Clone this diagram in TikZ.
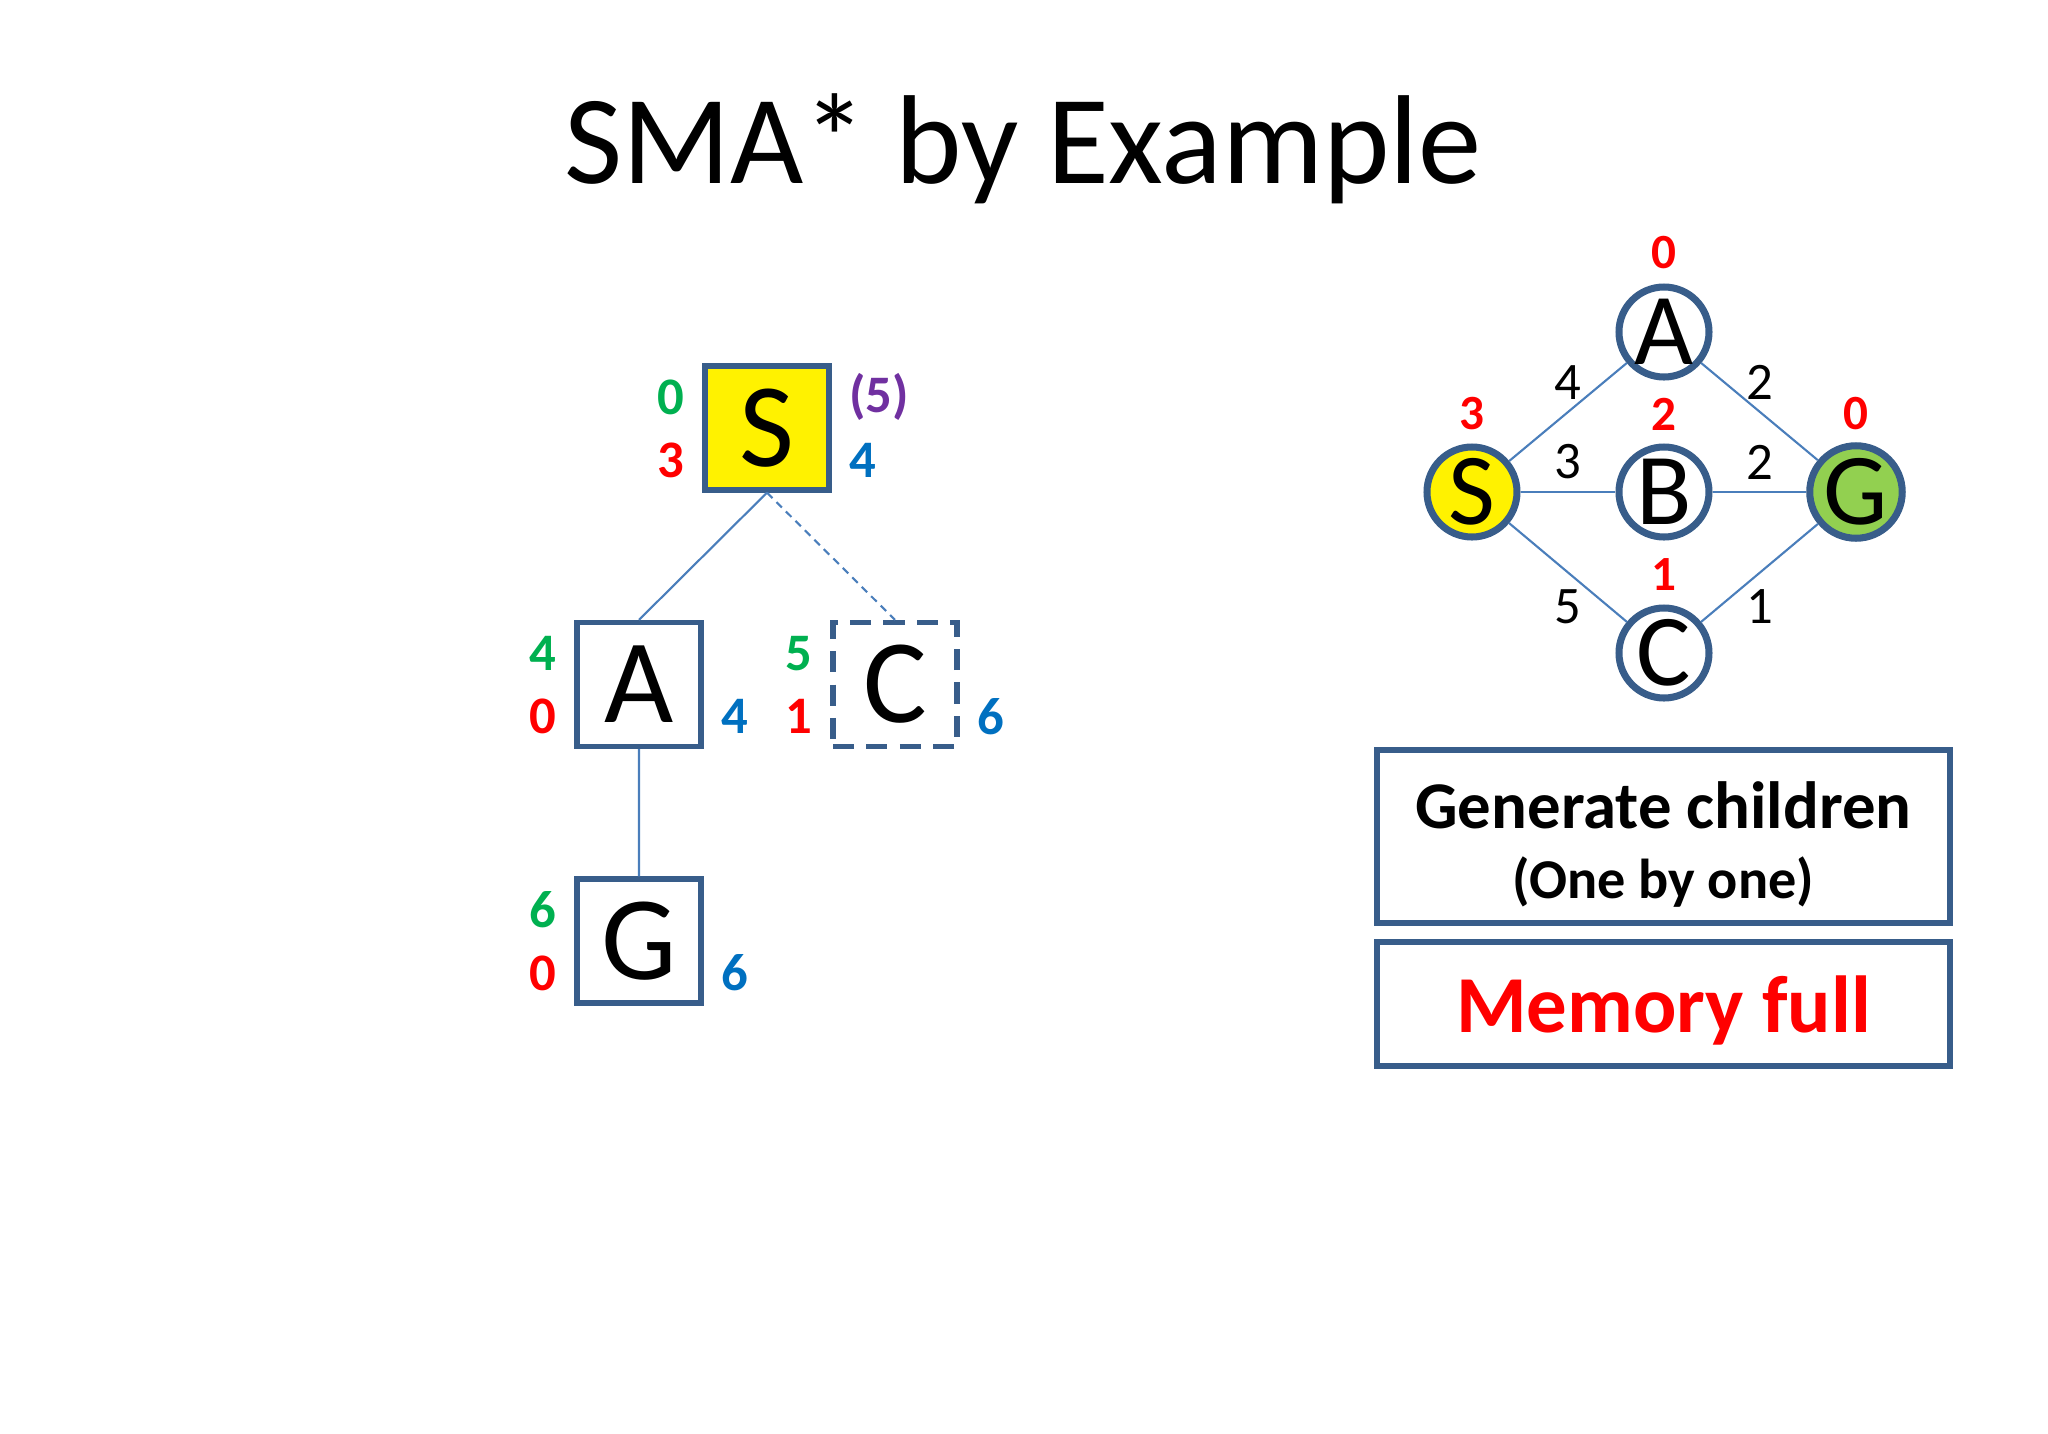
\documentclass[tikz,border=0pt]{standalone}
\usepackage{fontspec}
\setmainfont{Carlito}
\usetikzlibrary{positioning}
\definecolor{boxline}{HTML}{385D8A}
\definecolor{edgeline}{HTML}{4A7EBB}
\definecolor{gnum}{HTML}{00B050}
\definecolor{bnum}{HTML}{0070C0}
\definecolor{pnum}{HTML}{7030A0}
\definecolor{goalfill}{HTML}{92D050}
\begin{document}
\begin{tikzpicture}[
  level distance=2.565cm,
  sibling distance=2.56cm,
  parent anchor=south, child anchor=north,
  treebox/.style={rectangle, draw=boxline, line width=1.5pt, minimum size=1.24cm, inner sep=0pt, font=\fontsize{34}{40}\selectfont},
  edge from parent/.style={draw=edgeline, line width=0.6pt},
  gnode/.style={circle, draw=boxline, line width=2pt, minimum size=0.9cm, inner sep=0pt, font=\fontsize{29}{34}\selectfont},
  gedge/.style={draw=edgeline, line width=0.6pt},
  flab/.style={font=\bfseries\fontsize{15}{18}\selectfont, inner sep=0pt},
  hlab/.style={text=red, font=\bfseries\fontsize{14}{17}\selectfont, inner sep=0pt},
  wlab/.style={font=\fontsize{15}{18}\selectfont, inner sep=0pt},
  notebox/.style={rectangle, draw=boxline, line width=1.5pt, minimum width=5.73cm, inner sep=0pt, align=center}
]
\useasboundingbox (0,0) rectangle (20.48,-14.34);

\node[font=\fontsize{36}{43}\selectfont, anchor=base] (title) at (10.23,-1.83) {SMA* by Example};

% search tree
\node[treebox, fill=yellow] (tS) at (7.67,-4.28) {S}
  child { node[treebox] (tA) {A}
    child { node[treebox] (tG) {G} }
  }
  child { node[treebox, dash pattern=on 6pt off 3.5pt] (tC) {C}
    edge from parent[dash pattern=on 2.2pt off 1.6pt]
  };

\node[flab, text=gnum] (tSg) at ([shift={(-0.96,0.31)}]tS.center) {0};
\node[flab, text=red]  (tSh) at ([shift={(-0.96,-0.32)}]tS.center) {3};
\node[flab, text=bnum] (tSf) at ([shift={(0.96,-0.32)}]tS.center) {4};
\node[flab, text=pnum] (tSb) at ([shift={(1.12,0.31)}]tS.center) {(5)};

\node[flab, text=gnum] (tAg) at ([shift={(-0.96,0.31)}]tA.center) {4};
\node[flab, text=red]  (tAh) at ([shift={(-0.96,-0.32)}]tA.center) {0};
\node[flab, text=bnum] (tAf) at ([shift={(0.96,-0.32)}]tA.center) {4};

\node[flab, text=gnum] (tCg) at ([shift={(-0.96,0.31)}]tC.center) {5};
\node[flab, text=red]  (tCh) at ([shift={(-0.96,-0.32)}]tC.center) {1};
\node[flab, text=bnum] (tCf) at ([shift={(0.96,-0.32)}]tC.center) {6};

\node[flab, text=gnum] (tGg) at ([shift={(-0.96,0.31)}]tG.center) {6};
\node[flab, text=red]  (tGh) at ([shift={(-0.96,-0.32)}]tG.center) {0};
\node[flab, text=bnum] (tGf) at ([shift={(0.96,-0.32)}]tG.center) {6};

% problem graph
\node[gnode] (gA) at (16.64,-3.32) {A};
\node[gnode, fill=yellow] (gS) at (14.72,-4.92) {S};
\node[gnode] (gB) at (16.64,-4.92) {B};
\node[gnode, fill=goalfill] (gG) at (18.56,-4.92) {G};
\node[gnode] (gC) at (16.64,-6.53) {C};

\draw[gedge] (gS) -- node[wlab, yshift=0.29cm] (wSA) {4} (gA);
\draw[gedge] (gS) -- node[wlab, yshift=0.30cm] (wSB) {3} (gB);
\draw[gedge] (gS) -- node[wlab, yshift=-0.34cm] (wSC) {5} (gC);
\draw[gedge] (gA) -- node[wlab, yshift=0.29cm] (wAG) {2} (gG);
\draw[gedge] (gB) -- node[wlab, yshift=0.30cm] (wBG) {2} (gG);
\draw[gedge] (gC) -- node[wlab, yshift=-0.34cm] (wCG) {1} (gG);

\node[hlab] (hA) at ([yshift=0.79cm]gA.center) {0};
\node[hlab] (hS) at ([yshift=0.78cm]gS.center) {3};
\node[hlab] (hB) at ([yshift=0.78cm]gB.center) {2};
\node[hlab] (hG) at ([yshift=0.78cm]gG.center) {0};
\node[hlab] (hC) at ([yshift=0.78cm]gC.center) {1};

% notes
\node[notebox, minimum height=1.73cm] (gen) at (16.635,-8.365) {};
\node[align=center, inner sep=0pt] (gentext) at ([yshift=-0.08cm]gen.center)
  {\bfseries\fontsize{19}{21}\selectfont Generate children\\[7pt]
   \bfseries\fontsize{16}{21}\selectfont (One by one)};
\node[notebox, minimum height=1.24cm, text=red, text depth=0pt, font=\bfseries\fontsize{23}{27}\selectfont] (mem) at (16.635,-10.04) {Memory full};
\end{tikzpicture}
\end{document}
